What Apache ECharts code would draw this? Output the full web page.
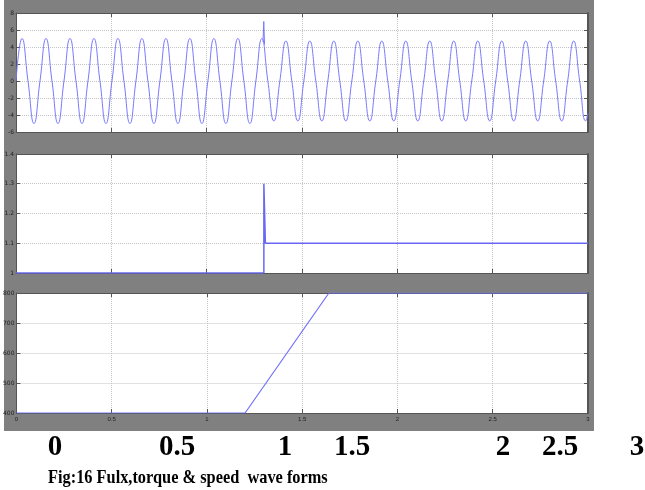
<!DOCTYPE html>
<html>
<head>
<meta charset="utf-8">
<script src="https://cdn.jsdelivr.net/npm/echarts@6/dist/echarts.min.js"></script>
<style>
  html, body { margin: 0; padding: 0; background: #fff; }
  #wrap { position: relative; width: 645px; height: 490px; }
  #bg { position: absolute; left: 4px; top: 0; width: 590px; height: 431px; background: #808080; }
  #chart { position: absolute; left: 0; top: 0; width: 645px; height: 490px; }
</style>
</head>
<body>
<div id="wrap">
  <div id="bg"></div>
  <div id="chart"></div>
</div>
<script>
// flux waveform, read at peaks / troughs / zero crossings
const fluxT = [
  0, 0.0315, 0.0629, 0.0944, 0.1258, 0.1573, 0.1887, 0.2202,
  0.2516, 0.2831, 0.3145, 0.3460, 0.3774, 0.4089, 0.4403, 0.4718,
  0.5032, 0.5347, 0.5661, 0.5976, 0.6290, 0.6605, 0.6919, 0.7234,
  0.7548, 0.7863, 0.8177, 0.8492, 0.8806, 0.9121, 0.9435, 0.9750,
  1.0064, 1.0379, 1.0693, 1.1008, 1.1322, 1.1637, 1.1951, 1.2266,
  1.2580, 1.2895, 1.3209, 1.3524, 1.3838, 1.4153, 1.4467, 1.4782,
  1.5096, 1.5411, 1.5725, 1.6040, 1.6354, 1.6669, 1.6983, 1.7298,
  1.7612, 1.7927, 1.8241, 1.8556, 1.8870, 1.9185, 1.9499, 1.9814,
  2.0128, 2.0443, 2.0757, 2.1072, 2.1386, 2.1701, 2.2015, 2.2330,
  2.2644, 2.2959, 2.3273, 2.3588, 2.3902, 2.4217, 2.4531, 2.4846,
  2.5160, 2.5475, 2.5789, 2.6104, 2.6418, 2.6733, 2.7047, 2.7362,
  2.7676, 2.7991, 2.8305, 2.8620, 2.8934, 2.9249, 2.9563, 2.9878,
  3.0
];
const fluxV = [
  0, 5, 0, -5, 0, 5, 0, -5,
  0, 5, 0, -5, 0, 5, 0, -5,
  0, 5, 0, -5, 0, 5, 0, -5,
  0, 5, 0, -5, 0, 5, 0, -5,
  0, 5, 0, -5, 0, 5, 0, -5,
  0, 5, 0, -4.7, 0, 4.7, 0, -4.7,
  0, 4.7, 0, -4.7, 0, 4.7, 0, -4.7,
  0, 4.7, 0, -4.7, 0, 4.7, 0, -4.7,
  0, 4.7, 0, -4.7, 0, 4.7, 0, -4.7,
  0, 4.7, 0, -4.7, 0, 4.7, 0, -4.7,
  0, 4.7, 0, -4.7, 0, 4.7, 0, -4.7,
  0, 4.7, 0, -4.7, 0, 4.7, 0, -4.7,
  -3.8
];
// spike on load change
const spikeT = [1.2955, 1.2995, 1.3035];
const spikeV = [4.6, 7.0, 4.3];

const torqueT = [0, 1.3, 1.3, 1.308, 3];
const torqueV = [1, 1, 1.3, 1.1, 1.1];

const speedT = [0, 1.2, 1.64, 3];
const speedV = [400, 400, 800, 800];

const timeTicks = ['0', '0.5', '1', '1.5', '2', '2.5', '3'];
const bigTicks = ['0', '0.5', '1', '1.5', '2', '2.5', '3'];
const bigTickX = [55, 177, 285, 352, 503, 560, 637];
const caption = 'Fig:16 Fulx,torque & speed  wave forms';

const pair = (t, v) => t.map((x, i) => [x, v[i]]);

const chart = echarts.init(document.getElementById('chart'), null, { renderer: 'canvas' });

const grids = [
  { left: 16, right: 57, top: 13, height: 119 },
  { left: 16, right: 57, top: 154, height: 119 },
  { left: 16, right: 57, top: 293, height: 120 }
];
const yRanges = [
  { min: -6, max: 8, interval: 2 },
  { min: 1, max: 1.4, interval: 0.1 },
  { min: 400, max: 800, interval: 100 }
];

const edge = '#555';
const gridLine = { show: true, lineStyle: { color: '#c4c4c4', type: 'dotted', width: 1 } };

const xAxis = [];
const yAxis = [];
grids.forEach((g, i) => {
  xAxis.push({
    type: 'value', gridIndex: i, min: 0, max: 3, interval: 0.5, position: 'bottom',
    axisLine: { show: true, onZero: false, lineStyle: { color: edge, width: 1 } },
    axisTick: { show: true, inside: true, length: 4, lineStyle: { color: edge } },
    axisLabel: {
      show: i === 2, fontSize: 6, color: '#222', margin: 3,
      formatter: v => timeTicks[Math.round(v * 2)]
    },
    splitLine: gridLine
  });
  xAxis.push({
    type: 'value', gridIndex: i, min: 0, max: 3, interval: 0.5, position: 'top',
    axisLine: { show: true, onZero: false, lineStyle: { color: edge, width: 1 } },
    axisTick: { show: true, inside: true, length: 4, lineStyle: { color: edge } },
    axisLabel: { show: false },
    splitLine: { show: false }
  });
  yAxis.push({
    type: 'value', gridIndex: i, position: 'left', ...yRanges[i],
    axisLine: { show: true, onZero: false, lineStyle: { color: edge, width: 1 } },
    axisTick: { show: true, inside: true, length: 4, lineStyle: { color: edge } },
    axisLabel: { fontSize: 6, color: '#222', margin: 2, fontFamily: 'DejaVu Sans' },
    splitLine: gridLine
  });
  yAxis.push({
    type: 'value', gridIndex: i, position: 'right', ...yRanges[i],
    axisLine: { show: true, onZero: false, lineStyle: { color: edge, width: 2 } },
    axisTick: { show: true, inside: true, length: 4, lineStyle: { color: edge } },
    axisLabel: { show: false },
    splitLine: { show: false }
  });
});

const lineBase = { type: 'line', showSymbol: false, symbol: 'none', animation: false };

const graphic = bigTicks.map((t, i) => ({
  type: 'text', x: bigTickX[i], y: 448,
  style: { text: t, font: 'bold 29px "Liberation Serif"', fill: '#000',
           textAlign: 'center', textVerticalAlign: 'middle' }
}));
graphic.push({
  type: 'text', x: 48, y: 478, scaleX: 0.86,
  style: { text: caption, font: 'bold 19px "Liberation Serif"', fill: '#000',
           textAlign: 'left', textVerticalAlign: 'middle' }
});

chart.setOption({
  backgroundColor: 'transparent',
  animation: false,
  grid: grids.map(g => ({ ...g, show: true, backgroundColor: '#fff', borderWidth: 0 })),
  xAxis,
  yAxis,
  series: [
    { ...lineBase, xAxisIndex: 0, yAxisIndex: 0, smooth: true,
      data: pair(fluxT, fluxV), lineStyle: { color: '#7878ff', width: 1 } },
    { ...lineBase, xAxisIndex: 0, yAxisIndex: 0,
      data: pair(spikeT, spikeV), lineStyle: { color: '#7878ff', width: 1 } },
    { ...lineBase, xAxisIndex: 2, yAxisIndex: 2,
      data: pair(torqueT, torqueV), lineStyle: { color: '#6868f4', width: 1.5 } },
    { ...lineBase, xAxisIndex: 4, yAxisIndex: 4,
      data: pair(speedT, speedV), lineStyle: { color: '#7070fa', width: 1.2 } }
  ],
  graphic
});
</script>
</body>
</html>
